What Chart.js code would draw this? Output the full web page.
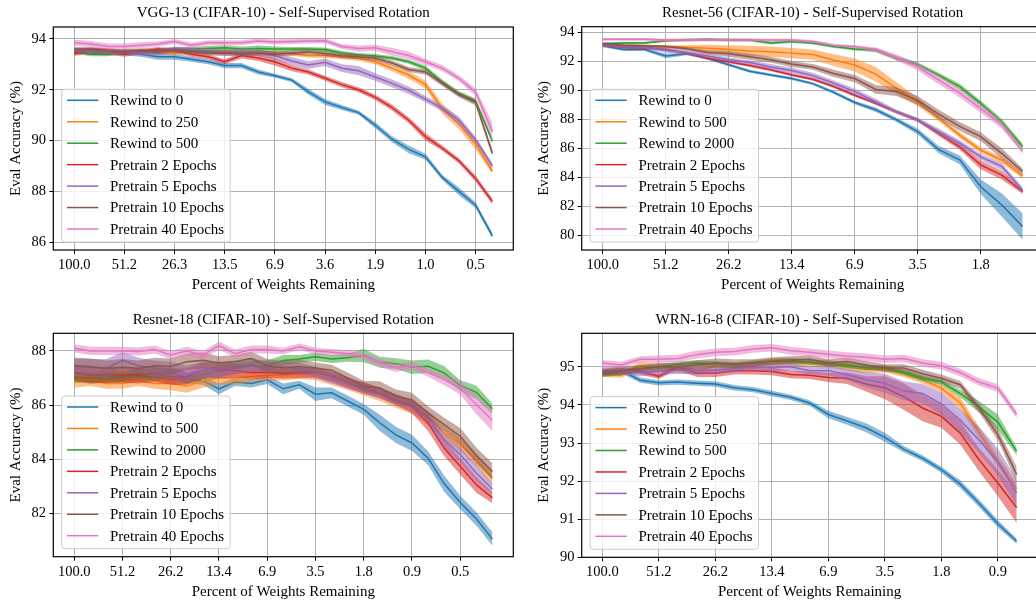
<!DOCTYPE html>
<html>
<head>
<meta charset="utf-8">
<script src="https://cdn.jsdelivr.net/npm/chart.js"></script>
<style>
  html, body { margin: 0; padding: 0; background: #fff; overflow: hidden; }
  #fig { position: relative; width: 1036px; height: 603px; overflow: hidden; }
  #fig canvas { position: absolute; }
</style>
</head>
<body>
<div id="fig">
  <canvas id="vgg"></canvas>
  <canvas id="r56"></canvas>
  <canvas id="r18"></canvas>
  <canvas id="wrn"></canvas>
</div>
<script>
// ---------- data ----------
const labelsA = ['Rewind to 0', 'Rewind to 250', 'Rewind to 500', 'Pretrain 2 Epochs', 'Pretrain 5 Epochs', 'Pretrain 10 Epochs', 'Pretrain 40 Epochs'];
const labelsB = ['Rewind to 0', 'Rewind to 500', 'Rewind to 2000', 'Pretrain 2 Epochs', 'Pretrain 5 Epochs', 'Pretrain 10 Epochs', 'Pretrain 40 Epochs'];

// VGG-13
const vggTicks = ['100.0', '51.2', '26.3', '13.5', '6.9', '3.6', '1.9', '1.0', '0.5'];
const vggYTicks = [86, 88, 90, 92, 94];
const vggRewind0   = [93.5,93.45,93.45,93.45,93.4,93.3,93.3,93.2,93.1,92.95,92.95,92.7,92.55,92.38,91.92,91.52,91.3,91.1,90.6,90.05,89.65,89.36,88.55,88.0,87.45,86.25];
const vggRewind250 = [93.4,93.55,93.55,93.5,93.5,93.45,93.45,93.5,93.5,93.5,93.5,93.45,93.45,93.42,93.35,93.35,93.3,93.24,93.1,92.85,92.58,92.2,91.25,90.65,89.85,88.8];
const vggRewind500 = [93.5,93.4,93.4,93.5,93.5,93.55,93.6,93.6,93.62,93.65,93.6,93.62,93.6,93.6,93.6,93.58,93.45,93.37,93.33,93.25,93.1,92.85,92.3,91.85,91.55,89.98];
const vggPre2      = [93.45,93.55,93.5,93.4,93.5,93.6,93.55,93.4,93.3,93.1,93.35,93.25,93.1,92.85,92.7,92.45,92.2,92.0,91.7,91.3,90.8,90.15,89.7,89.2,88.5,87.6];
const vggPre5      = [93.55,93.55,93.5,93.5,93.45,93.45,93.6,93.55,93.5,93.45,93.5,93.45,93.35,93.13,92.97,93.08,92.85,92.75,92.5,92.25,91.98,91.63,91.27,90.8,90.02,89.0];
const vggPre10     = [93.6,93.6,93.55,93.5,93.55,93.5,93.55,93.5,93.45,93.45,93.4,93.45,93.4,93.45,93.5,93.43,93.34,93.3,93.24,93.05,92.8,92.7,92.25,91.8,91.5,89.5];
const vggPre40     = [93.85,93.8,93.7,93.7,93.75,93.8,93.9,93.75,93.85,93.85,93.85,93.92,93.88,93.9,93.92,93.93,93.7,93.62,93.65,93.5,93.35,93.1,92.85,92.45,91.9,90.35];
// half-width of the shaded band
const vggRewind0Err   = [0.08,0.08,0.1,0.1,0.1,0.12,0.12,0.1,0.1,0.1,0.1,0.1,0.08,0.08,0.12,0.12,0.1,0.08,0.12,0.12,0.15,0.12,0.1,0.15,0.12,0.12];
const vggRewind250Err = [0.08,0.1,0.08,0.08,0.08,0.08,0.08,0.08,0.08,0.08,0.08,0.08,0.08,0.08,0.08,0.1,0.1,0.1,0.1,0.12,0.15,0.15,0.2,0.2,0.2,0.12];
const vggRewind500Err = [0.08,0.08,0.08,0.08,0.08,0.08,0.08,0.08,0.1,0.1,0.1,0.12,0.1,0.08,0.08,0.08,0.08,0.08,0.08,0.08,0.08,0.1,0.1,0.1,0.1,0.12];
const vggPre2Err      = [0.08,0.1,0.1,0.1,0.1,0.08,0.08,0.1,0.1,0.1,0.12,0.12,0.15,0.12,0.1,0.1,0.1,0.1,0.1,0.12,0.12,0.15,0.1,0.1,0.12,0.12];
const vggPre5Err      = [0.08,0.1,0.1,0.1,0.1,0.1,0.1,0.12,0.12,0.12,0.12,0.12,0.15,0.15,0.15,0.15,0.15,0.18,0.15,0.15,0.15,0.12,0.12,0.15,0.12,0.12];
const vggPre10Err     = [0.08,0.08,0.08,0.08,0.08,0.08,0.08,0.08,0.1,0.1,0.1,0.1,0.1,0.1,0.1,0.1,0.1,0.1,0.1,0.1,0.1,0.1,0.1,0.1,0.12,0.15];
const vggPre40Err     = [0.12,0.12,0.12,0.12,0.12,0.1,0.1,0.1,0.1,0.1,0.1,0.1,0.1,0.1,0.1,0.1,0.1,0.12,0.12,0.15,0.15,0.12,0.12,0.12,0.15,0.35];

// Resnet-56
const r56Ticks = ['100.0', '51.2', '26.2', '13.4', '6.9', '3.5', '1.8'];
const r56YTicks = [80, 82, 84, 86, 88, 90, 92, 94];
const r56Rewind0    = [93.05,92.8,92.8,92.35,92.5,92.2,91.75,91.3,91.05,90.8,90.45,89.85,89.15,88.65,87.95,87.15,85.9,85.2,83.35,82.1,80.6];
const r56Rewind500  = [93.1,93.05,93.0,93.0,92.95,92.88,92.8,92.7,92.65,92.55,92.45,92.07,91.73,91.1,90.12,89.2,88.05,86.9,85.87,85.19,84.1];
const r56Rewind2000 = [93.2,93.25,93.25,93.4,93.45,93.5,93.45,93.45,93.25,93.35,93.25,93.0,92.83,92.76,92.2,91.77,91.04,90.24,89.09,87.83,86.1];
const r56Pre2       = [93.1,92.95,92.9,92.8,92.55,92.2,91.95,91.7,91.4,91.05,90.75,90.25,89.65,89.1,88.5,87.95,87.0,86.1,84.85,84.15,83.0];
const r56Pre5       = [93.1,93.0,92.95,92.75,92.6,92.35,92.1,91.9,91.6,91.35,91.0,90.47,89.9,89.2,88.5,87.95,87.15,86.35,85.4,84.75,83.1];
const r56Pre10      = [93.2,93.1,93.05,93.0,92.85,92.6,92.5,92.3,92.1,91.8,91.6,91.15,90.8,90.05,89.9,89.3,88.35,87.5,86.8,85.65,84.4];
const r56Pre40      = [93.5,93.5,93.5,93.45,93.45,93.45,93.45,93.45,93.45,93.45,93.35,93.1,93.0,92.8,92.25,91.6,90.7,89.8,88.75,87.6,85.8];
const r56Rewind0Err    = [0.1,0.1,0.1,0.15,0.1,0.1,0.1,0.1,0.1,0.1,0.1,0.12,0.12,0.15,0.15,0.2,0.25,0.3,0.5,0.8,0.9];
const r56Rewind500Err  = [0.1,0.1,0.1,0.1,0.15,0.25,0.3,0.35,0.35,0.35,0.35,0.4,0.45,0.5,0.4,0.3,0.2,0.2,0.2,0.2,0.2];
const r56Rewind2000Err = [0.08,0.08,0.08,0.08,0.1,0.1,0.1,0.1,0.1,0.1,0.1,0.1,0.1,0.15,0.15,0.15,0.15,0.2,0.2,0.2,0.2];
const r56Pre2Err       = [0.1,0.1,0.1,0.1,0.1,0.1,0.1,0.1,0.1,0.1,0.1,0.1,0.1,0.1,0.1,0.12,0.15,0.2,0.3,0.3,0.15];
const r56Pre5Err       = [0.1,0.1,0.1,0.15,0.15,0.15,0.15,0.15,0.2,0.2,0.2,0.2,0.2,0.2,0.15,0.15,0.2,0.2,0.2,0.25,0.2];
const r56Pre10Err      = [0.1,0.1,0.1,0.1,0.1,0.15,0.2,0.2,0.2,0.2,0.2,0.25,0.25,0.3,0.3,0.3,0.3,0.3,0.3,0.35,0.2];
const r56Pre40Err      = [0.1,0.1,0.1,0.1,0.1,0.1,0.1,0.1,0.1,0.1,0.1,0.1,0.1,0.15,0.2,0.25,0.3,0.3,0.3,0.25,0.2];

// Resnet-18
const r18Ticks = ['100.0', '51.2', '26.2', '13.4', '6.9', '3.5', '1.8', '0.9', '0.5'];
const r18YTicks = [82, 84, 86, 88];
const r18Rewind0    = [87.0,87.0,86.95,87.0,87.05,87.05,86.95,86.95,86.9,86.6,86.85,86.8,86.93,86.6,86.75,86.4,86.45,86.15,85.84,85.34,84.9,84.6,84.04,83.1,82.4,81.8,81.05];
const r18Rewind500  = [86.85,86.9,86.8,86.8,86.9,86.8,86.8,86.7,86.9,87.0,87.0,87.05,87.1,87.12,87.15,87.13,86.94,86.76,86.6,86.4,86.15,85.93,85.52,84.97,84.54,83.98,83.3];
const r18Rewind2000 = [87.05,87.0,87.05,87.05,87.15,87.1,87.2,87.0,87.15,87.25,87.35,87.45,87.45,87.65,87.7,87.78,87.7,87.75,87.83,87.58,87.53,87.4,87.43,87.19,86.72,86.47,85.86];
const r18Pre2       = [87.2,87.1,87.12,87.12,87.1,87.15,87.05,87.05,87.28,87.3,87.28,87.2,87.2,87.18,87.2,87.2,87.06,86.82,86.63,86.45,86.2,85.95,85.34,84.41,83.74,83.06,82.57];
const r18Pre5       = [87.42,87.4,87.35,87.65,87.45,87.35,87.3,87.15,87.3,87.3,87.4,87.5,87.4,87.4,87.35,87.22,87.0,86.82,86.63,86.45,86.2,86.0,85.56,84.72,84.17,83.49,82.9];
const r18Pre10      = [87.45,87.42,87.35,87.4,87.35,87.45,87.42,87.6,87.65,87.55,87.6,87.72,87.45,87.38,87.42,87.37,87.29,87.0,86.69,86.63,86.32,86.2,85.71,85.28,84.85,84.13,83.55];
const r18Pre40      = [88.1,88.0,88.0,88.0,87.98,88.05,87.85,88.0,87.85,88.2,87.9,88.05,88.05,88.0,88.15,88.0,87.95,87.9,87.8,87.56,87.37,87.46,87.2,86.94,86.63,86.02,85.44];
const r18Rewind0Err    = [0.15,0.15,0.15,0.15,0.15,0.15,0.15,0.15,0.15,0.2,0.15,0.15,0.15,0.2,0.15,0.25,0.2,0.2,0.2,0.3,0.3,0.3,0.25,0.3,0.25,0.25,0.25];
const r18Rewind500Err  = [0.2,0.2,0.2,0.2,0.2,0.2,0.25,0.25,0.25,0.25,0.25,0.2,0.2,0.2,0.2,0.2,0.2,0.2,0.25,0.25,0.25,0.25,0.25,0.25,0.25,0.25,0.25];
const r18Rewind2000Err = [0.2,0.2,0.2,0.2,0.2,0.2,0.2,0.2,0.2,0.2,0.2,0.2,0.2,0.2,0.15,0.15,0.15,0.15,0.25,0.2,0.2,0.25,0.25,0.25,0.2,0.25,0.2];
const r18Pre2Err       = [0.3,0.3,0.3,0.3,0.3,0.3,0.3,0.3,0.3,0.3,0.25,0.25,0.2,0.2,0.2,0.2,0.2,0.2,0.2,0.2,0.2,0.25,0.3,0.3,0.3,0.3,0.2];
const r18Pre5Err       = [0.3,0.3,0.35,0.3,0.3,0.3,0.3,0.3,0.3,0.3,0.25,0.25,0.2,0.2,0.2,0.2,0.2,0.2,0.2,0.2,0.2,0.2,0.2,0.25,0.3,0.3,0.2];
const r18Pre10Err      = [0.3,0.3,0.3,0.3,0.3,0.3,0.3,0.3,0.3,0.25,0.25,0.25,0.25,0.25,0.25,0.2,0.2,0.2,0.2,0.25,0.25,0.25,0.25,0.25,0.3,0.3,0.3];
const r18Pre40Err      = [0.15,0.15,0.15,0.15,0.15,0.15,0.15,0.15,0.15,0.15,0.15,0.15,0.15,0.12,0.12,0.12,0.12,0.12,0.12,0.15,0.15,0.15,0.15,0.2,0.25,0.35,0.4];

// WRN-16-8
const wrnTicks = ['100.0', '51.2', '26.2', '13.4', '6.9', '3.5', '1.8', '0.9'];
const wrnYTicks = [90, 91, 92, 93, 94, 95];
const wrnRewind0   = [94.85,94.9,94.65,94.58,94.6,94.57,94.55,94.45,94.4,94.3,94.2,94.05,93.75,93.58,93.4,93.15,92.84,92.6,92.3,91.92,91.42,90.88,90.42];
const wrnRewind250 = [94.8,94.78,95.03,94.98,94.93,94.9,95.0,95.0,95.03,95.12,95.12,95.1,95.08,95.0,94.93,94.95,94.83,94.66,94.44,94.05,93.28,92.52,91.8];
const wrnRewind500 = [94.8,94.85,94.95,95.0,95.07,95.1,95.08,95.05,95.1,95.14,95.16,95.12,95.08,95.03,94.98,94.97,94.85,94.7,94.6,94.3,93.95,93.55,92.78];
const wrnPre2      = [94.85,94.9,94.87,94.75,95.0,94.83,94.83,94.9,94.9,94.88,94.8,94.78,94.72,94.7,94.55,94.45,94.22,93.92,93.7,93.26,92.56,91.95,91.3];
const wrnPre5      = [94.9,94.9,94.85,94.88,94.92,94.9,94.92,94.95,95.0,94.98,95.0,94.9,94.9,94.8,94.66,94.57,94.37,94.3,94.03,93.6,93.08,92.5,91.7];
const wrnPre10     = [94.85,94.9,94.95,95.0,95.0,95.05,95.1,95.08,95.1,95.15,95.18,95.2,95.1,95.14,95.05,94.97,94.97,94.82,94.7,94.53,93.92,93.22,92.17];
const wrnPre40     = [95.1,95.05,95.2,95.2,95.22,95.32,95.38,95.4,95.47,95.5,95.42,95.38,95.33,95.28,95.25,95.2,95.22,95.1,95.03,94.85,94.6,94.44,93.75];
const wrnRewind0Err   = [0.07,0.07,0.07,0.07,0.07,0.07,0.07,0.07,0.07,0.07,0.07,0.07,0.1,0.1,0.12,0.12,0.08,0.08,0.08,0.1,0.1,0.1,0.07];
const wrnRewind250Err = [0.07,0.07,0.1,0.1,0.1,0.1,0.1,0.1,0.1,0.1,0.1,0.1,0.1,0.1,0.1,0.1,0.1,0.1,0.1,0.15,0.15,0.15,0.15];
const wrnRewind500Err = [0.07,0.07,0.07,0.07,0.07,0.07,0.07,0.07,0.07,0.07,0.07,0.07,0.07,0.07,0.07,0.07,0.07,0.07,0.07,0.1,0.15,0.2,0.1];
const wrnPre2Err      = [0.07,0.07,0.07,0.07,0.07,0.1,0.1,0.1,0.1,0.1,0.1,0.1,0.12,0.15,0.2,0.3,0.35,0.35,0.3,0.3,0.3,0.35,0.4];
const wrnPre5Err      = [0.1,0.1,0.1,0.1,0.1,0.1,0.1,0.1,0.1,0.1,0.1,0.1,0.12,0.15,0.2,0.25,0.25,0.25,0.3,0.3,0.35,0.35,0.35];
const wrnPre10Err     = [0.1,0.1,0.1,0.1,0.1,0.12,0.12,0.12,0.1,0.1,0.1,0.1,0.1,0.1,0.1,0.1,0.1,0.1,0.1,0.1,0.12,0.15,0.2];
const wrnPre40Err     = [0.08,0.08,0.08,0.1,0.1,0.1,0.1,0.1,0.1,0.1,0.1,0.1,0.1,0.1,0.1,0.1,0.1,0.1,0.1,0.1,0.1,0.1,0.1];

// ---------- style ----------
const COLORS = ['#1f77b4', '#ff7f0e', '#2ca02c', '#d62728', '#9467bd', '#8c564b', '#e377c2'];
const BAND_ALPHA = 0.5;
const SERIF = '"Liberation Serif", "Times New Roman", serif';
const TICK_EVERY = 3; // a tick label every 3 pruning rounds
const TEXT_SIZE = 15;
const TICK_SIZE = 14.5;

Chart.defaults.font.family = SERIF;
Chart.defaults.font.size = TEXT_SIZE;
Chart.defaults.color = '#000';

function withAlpha(hex, a) {
  const n = parseInt(hex.slice(1), 16);
  return `rgba(${(n >> 16) & 255},${(n >> 8) & 255},${n & 255},${a})`;
}

// frame, panel title and the matplotlib-like legend
const decor = {
  id: 'decor',
  afterDraw(chart, args, o) {
    const { ctx, chartArea: a } = chart;
    ctx.save();
    ctx.strokeStyle = '#000';
    ctx.lineWidth = 1.2;
    ctx.strokeRect(a.left, a.top, a.right - a.left, a.bottom - a.top);

    ctx.font = `${TEXT_SIZE}px ${SERIF}`;
    ctx.fillStyle = '#000';
    ctx.textAlign = 'center';
    ctx.textBaseline = 'middle';
    ctx.fillText(o.title, (a.left + a.right) / 2, o.titleY);

    const items = chart.data.datasets.filter(d => d.legendItem);
    const textW = Math.max(...items.map(d => ctx.measureText(d.label).width));
    const rowH = 21.45;
    const w = 5.3 + 31.3 + 11.7 + textW + 6;
    const h = 11 + rowH * (items.length - 1) + 13;
    const x0 = a.left + 8.4;
    const y0 = a.bottom - 8 - h;
    const r = 3;
    ctx.beginPath();
    ctx.moveTo(x0 + r, y0);
    ctx.arcTo(x0 + w, y0, x0 + w, y0 + h, r);
    ctx.arcTo(x0 + w, y0 + h, x0, y0 + h, r);
    ctx.arcTo(x0, y0 + h, x0, y0, r);
    ctx.arcTo(x0, y0, x0 + w, y0, r);
    ctx.closePath();
    ctx.fillStyle = 'rgba(255,255,255,0.8)';
    ctx.fill();
    ctx.strokeStyle = '#cccccc';
    ctx.lineWidth = 1;
    ctx.stroke();

    ctx.textAlign = 'left';
    items.forEach((d, i) => {
      const y = y0 + 11 + i * rowH;
      ctx.strokeStyle = d.borderColor;
      ctx.lineWidth = 1.5;
      ctx.beginPath();
      ctx.moveTo(x0 + 5.3, y);
      ctx.lineTo(x0 + 36.6, y);
      ctx.stroke();
      ctx.fillStyle = '#000';
      ctx.fillText(d.label, x0 + 48.3, y + 1);
    });
    ctx.restore();
  }
};

function makePanel(p) {
  const canvas = document.getElementById(p.id);
  canvas.width = p.w;
  canvas.height = p.h;
  canvas.style.left = p.left + 'px';
  canvas.style.top = p.top + 'px';

  const datasets = [];
  p.series.forEach((mean, s) => {
    const err = p.errs[s];
    const lowerIdx = datasets.length;
    datasets.push({
      data: mean.map((v, i) => ({ x: i, y: v - (err[i] ?? 0.1) })),
      borderColor: 'rgba(0,0,0,0)', borderWidth: 0, pointRadius: 0, fill: false, order: 50
    });
    datasets.push({
      data: mean.map((v, i) => ({ x: i, y: v + (err[i] ?? 0.1) })),
      borderColor: 'rgba(0,0,0,0)', borderWidth: 0, pointRadius: 0,
      fill: { target: lowerIdx }, backgroundColor: withAlpha(COLORS[s], BAND_ALPHA),
      order: 20 - 2 * s
    });
    datasets.push({
      label: p.labels[s], legendItem: true,
      data: mean.map((v, i) => ({ x: i, y: v })),
      borderColor: COLORS[s], borderWidth: 1.5, pointRadius: 0, fill: false,
      order: 19 - 2 * s
    });
  });

  const last = p.series[0].length - 1;
  const grid = { color: '#b0b0b0', lineWidth: 1, tickColor: '#000', tickLength: 4 };

  new Chart(canvas, {
    type: 'line',
    data: { datasets },
    plugins: [decor],
    options: {
      responsive: false,
      devicePixelRatio: 1,
      animation: false,
      events: [],
      layout: { padding: { left: 0, top: p.area.top, right: p.w - p.area.right, bottom: 0 } },
      plugins: {
        legend: { display: false },
        tooltip: { enabled: false },
        decor: { title: p.title, titleY: p.titleY }
      },
      scales: {
        x: {
          type: 'linear',
          min: -0.05 * last,
          max: 1.05 * last,
          afterBuildTicks: s => { s.ticks = p.xTicks.map((_, j) => ({ value: j * TICK_EVERY })); },
          afterFit: s => { s.height = p.h - p.area.bottom; },
          ticks: { callback: (v, i) => p.xTicks[i], padding: p.xTickPad, maxRotation: 0, autoSkip: false, font: { size: TICK_SIZE } },
          grid,
          border: { display: false },
          title: { display: true, text: 'Percent of Weights Remaining', padding: { top: 0, bottom: p.xTitlePad } }
        },
        y: {
          type: 'linear',
          min: p.yMin,
          max: p.yMax,
          afterBuildTicks: s => { s.ticks = p.yTicks.map(v => ({ value: v })); },
          afterFit: s => { s.width = p.area.left; },
          ticks: { callback: v => String(v), padding: 3.3, font: { size: TICK_SIZE } },
          grid,
          border: { display: false },
          title: { display: true, text: 'Eval Accuracy (%)', padding: { top: p.yTitlePad, bottom: 0 } }
        }
      }
    }
  });
}

makePanel({
  id: 'vgg', left: 0, top: 0, w: 518, h: 300,
  area: { left: 53.3, top: 27, right: 513.3, bottom: 250 },
  title: 'VGG-13 (CIFAR-10) - Self-Supervised Rotation', titleY: 13.3,
  labels: labelsA, xTicks: vggTicks, yTicks: vggYTicks, yMin: 85.69, yMax: 94.47,
  series: [vggRewind0, vggRewind250, vggRewind500, vggPre2, vggPre5, vggPre10, vggPre40],
  errs: [vggRewind0Err, vggRewind250Err, vggRewind500Err, vggPre2Err, vggPre5Err, vggPre10Err, vggPre40Err],
  xTickPad: 2.3, xTitlePad: 6, yTitlePad: 7
});

makePanel({
  id: 'r56', left: 518, top: 0, w: 540, h: 300,
  area: { left: 63.7, top: 26.7, right: 525.7, bottom: 250 },
  title: 'Resnet-56 (CIFAR-10) - Self-Supervised Rotation', titleY: 13.3,
  labels: labelsB, xTicks: r56Ticks, yTicks: r56YTicks, yMin: 78.99, yMax: 94.37,
  series: [r56Rewind0, r56Rewind500, r56Rewind2000, r56Pre2, r56Pre5, r56Pre10, r56Pre40],
  errs: [r56Rewind0Err, r56Rewind500Err, r56Rewind2000Err, r56Pre2Err, r56Pre5Err, r56Pre10Err, r56Pre40Err],
  xTickPad: 2.3, xTitlePad: 6, yTitlePad: 17.3
});

makePanel({
  id: 'r18', left: 0, top: 300, w: 518, h: 303,
  area: { left: 53.3, top: 33.3, right: 513.3, bottom: 256.7 },
  title: 'Resnet-18 (CIFAR-10) - Self-Supervised Rotation', titleY: 20,
  labels: labelsB, xTicks: r18Ticks, yTicks: r18YTicks, yMin: 80.4, yMax: 88.65,
  series: [r18Rewind0, r18Rewind500, r18Rewind2000, r18Pre2, r18Pre5, r18Pre10, r18Pre40],
  errs: [r18Rewind0Err, r18Rewind500Err, r18Rewind2000Err, r18Pre2Err, r18Pre5Err, r18Pre10Err, r18Pre40Err],
  xTickPad: 2.3, xTitlePad: 2.3, yTitlePad: 7
});

makePanel({
  id: 'wrn', left: 518, top: 300, w: 540, h: 303,
  area: { left: 63.7, top: 33.3, right: 519.4, bottom: 257.3 },
  title: 'WRN-16-8 (CIFAR-10) - Self-Supervised Rotation', titleY: 20,
  labels: labelsA, xTicks: wrnTicks, yTicks: wrnYTicks, yMin: 90, yMax: 95.88,
  series: [wrnRewind0, wrnRewind250, wrnRewind500, wrnPre2, wrnPre5, wrnPre10, wrnPre40],
  errs: [wrnRewind0Err, wrnRewind250Err, wrnRewind500Err, wrnPre2Err, wrnPre5Err, wrnPre10Err, wrnPre40Err],
  xTickPad: 1.7, xTitlePad: 2.3, yTitlePad: 17.3
});
</script>
</body>
</html>
